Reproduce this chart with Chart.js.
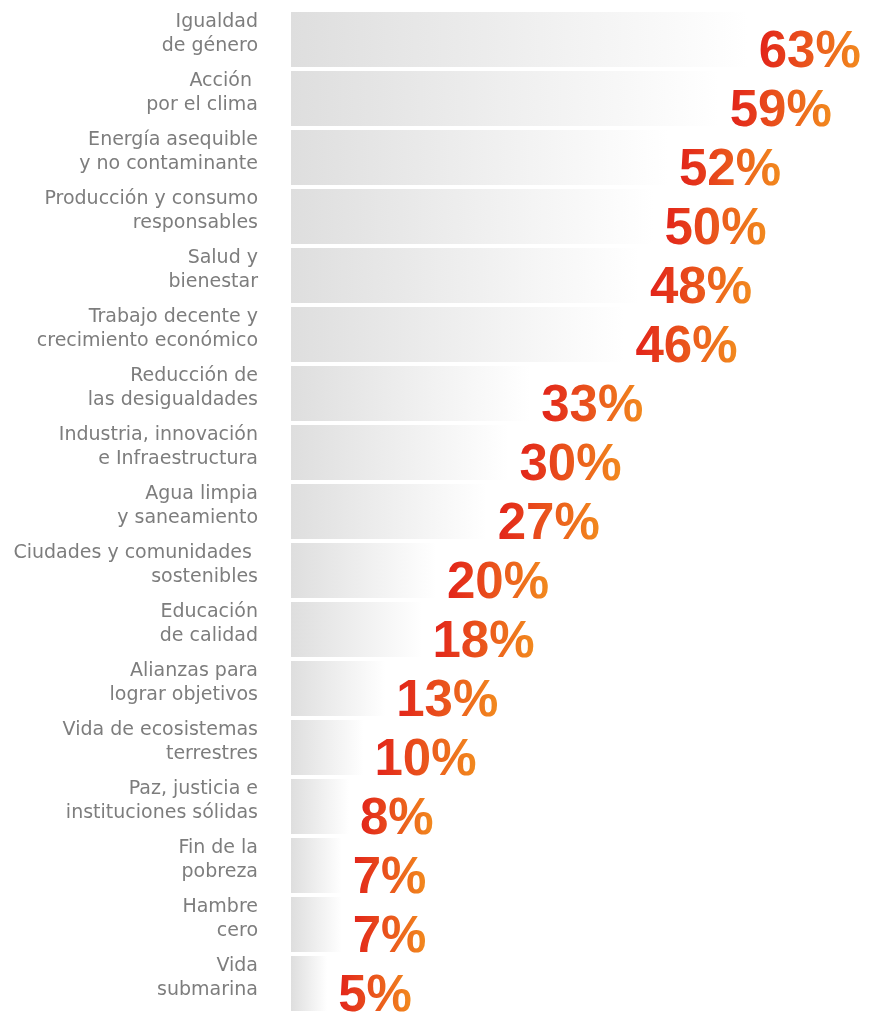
<!DOCTYPE html>
<html>
<head>
<meta charset="utf-8">
<script src="https://cdn.jsdelivr.net/npm/chart.js@4"></script>
<style>
html, body { margin: 0; padding: 0; background: #fff; overflow: hidden; }
#wrap { width: 871px; height: 1013px; }
</style>
</head>
<body>
<div id="wrap"><canvas id="odsChart"></canvas></div>
<script>
const categories = [
  ["Igualdad", "de género"],
  ["Acción ", "por el clima"],
  ["Energía asequible", "y no contaminante"],
  ["Producción y consumo", "responsables"],
  ["Salud y", "bienestar"],
  ["Trabajo decente y", "crecimiento económico"],
  ["Reducción de", "las desigualdades"],
  ["Industria, innovación", "e Infraestructura"],
  ["Agua limpia", "y saneamiento"],
  ["Ciudades y comunidades ", "sostenibles"],
  ["Educación", "de calidad"],
  ["Alianzas para", "lograr objetivos"],
  ["Vida de ecosistemas", "terrestres"],
  ["Paz, justicia e", "instituciones sólidas"],
  ["Fin de la", "pobreza"],
  ["Hambre", "cero"],
  ["Vida", "submarina"]
];
const values = [63, 59, 52, 50, 48, 46, 33, 30, 27, 20, 18, 13, 10, 8, 7, 7, 5];

// grey bar fading out to white at its end
function barFill(ctx) {
  const chart = ctx.chart;
  const area = chart.chartArea;
  if (!area || !chart.scales.x) return '#e0e0e0';
  const x0 = chart.scales.x.getPixelForValue(0);
  const x1 = chart.scales.x.getPixelForValue(ctx.raw);
  const g = chart.ctx.createLinearGradient(x0, 0, x1, 0);
  g.addColorStop(0, '#dedede');
  g.addColorStop(1, '#ffffff');
  return g;
}

// percentage labels, red to orange
const valueLabels = {
  id: 'valueLabels',
  afterDatasetsDraw(chart) {
    const c = chart.ctx;
    const meta = chart.getDatasetMeta(0);
    c.save();
    c.font = 'bold 51px "Liberation Sans", Arial, sans-serif';
    c.textAlign = 'left';
    c.textBaseline = 'alphabetic';
    meta.data.forEach((bar, i) => {
      const txt = values[i] + '%';
      const x = bar.x + 11;
      const y = bar.y + 27;
      const w = c.measureText(txt).width;
      const g = c.createLinearGradient(x, 0, x + w, 0);
      g.addColorStop(0, '#e2231a');
      g.addColorStop(1, '#f28a1e');
      c.fillStyle = g;
      c.fillText(txt, x, y);
    });
    c.restore();
  }
};

new Chart(document.getElementById('odsChart'), {
  type: 'bar',
  data: {
    labels: categories,
    datasets: [{
      data: values,
      backgroundColor: barFill,
      borderWidth: 0,
      categoryPercentage: 1,
      barPercentage: 55 / 59
    }]
  },
  options: {
    indexAxis: 'y',
    responsive: true,
    maintainAspectRatio: false,
    animation: false,
    layout: { padding: { top: 10, bottom: 0, left: 0, right: 0 } },
    scales: {
      x: { display: false, min: 0, max: 80 },
      y: {
        afterFit(scale) {
          scale.width = 291;
          scale.paddingTop = 0;
          scale.paddingBottom = 0;
        },
        grid: { display: false, drawTicks: false },
        border: { display: false },
        ticks: {
          padding: 33,
          labelOffset: -5,
          color: '#7d7d7d',
          font: { family: '"DejaVu Sans", sans-serif', size: 19, lineHeight: '24px' }
        }
      }
    },
    plugins: {
      legend: { display: false },
      tooltip: { enabled: false }
    }
  },
  plugins: [valueLabels]
});
</script>
</body>
</html>
